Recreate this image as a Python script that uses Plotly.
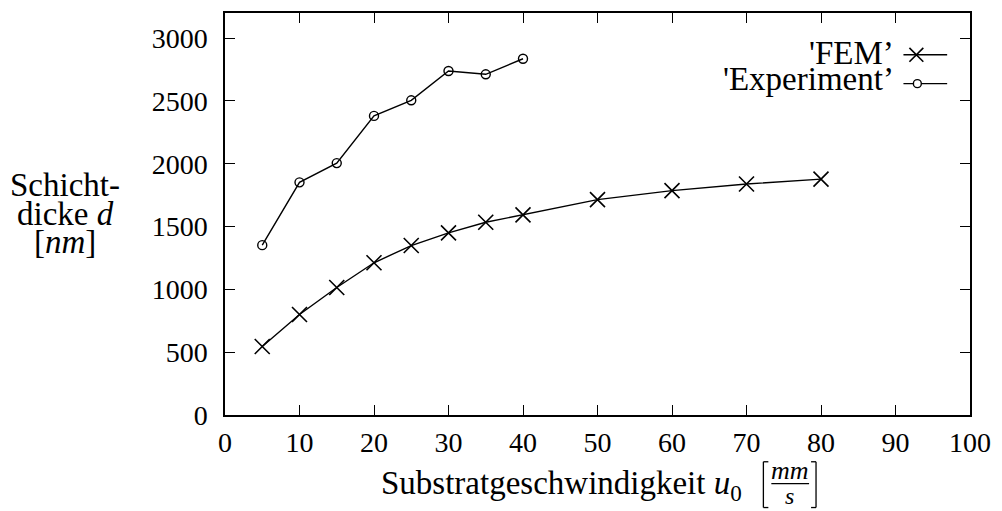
import plotly.graph_objects as go

fem_x = [5, 10, 15, 20, 25, 30, 35, 40, 50, 60, 70, 80]
fem_y = [545, 800, 1015, 1212, 1349, 1450, 1534, 1593, 1714, 1786, 1839, 1878]
exp_x = [5, 10, 15, 20, 25, 30, 35, 40]
exp_y = [1352, 1852, 2005, 2381, 2505, 2738, 2712, 2836]
x_ticks = [0, 10, 20, 30, 40, 50, 60, 70, 80, 90, 100]
y_ticks = [0, 500, 1000, 1500, 2000, 2500, 3000]

W, H = 1002, 511
L, R, T, B = 225, 27, 11, 96
PW, PH = W - L - R, H - T - B
FONT = "Liberation Serif"
FS = 28
TS = 33
LS = 33

def px(xp):
    return (xp - L) / PW

def py(yp):
    return (H - B - yp) / PH

fig = go.Figure()
fig.add_trace(go.Scatter(x=fem_x, y=fem_y, mode="lines+markers", name="'FEM'",
                         line=dict(color="black", width=1.4),
                         marker=dict(symbol="x-thin", size=15, line=dict(color="black", width=1.6)),
                         showlegend=False))
fig.add_trace(go.Scatter(x=exp_x, y=exp_y, mode="lines+markers", name="'Experiment'",
                         line=dict(color="black", width=1.4),
                         marker=dict(symbol="circle-open", size=9, color="black", line=dict(width=1.4)),
                         showlegend=False))

axis_common = dict(showline=True, linecolor="black", linewidth=1.5, mirror="ticks",
                   ticks="inside", ticklen=10, tickwidth=1.4, tickcolor="black",
                   showgrid=False, zeroline=False,
                   tickfont=dict(family=FONT, size=FS, color="black"))
fig.update_xaxes(range=[0, 100], tickvals=x_ticks, ticklabelstandoff=2, **axis_common)
fig.update_yaxes(range=[0, 3200], tickvals=y_ticks, ticklabelstandoff=10, **axis_common)

def text(xp, yp, s, size=TS, xanchor="center"):
    return dict(x=px(xp), y=py(yp), xref="paper", yref="paper", showarrow=False,
                xanchor=xanchor, yanchor="middle", text=s, align="center",
                font=dict(family=FONT, size=size, color="black"))

ann = []
ann.append(text(64, 184, "Schicht-"))
ann.append(text(64, 213, "dicke <i>d</i>"))
ann.append(text(64, 241, "[<i>nm</i>]"))
ann.append(text(747, 486, "Substratgeschwindigkeit <i>u</i><sub>0</sub>", xanchor="right"))
ann.append(text(794, 471, "<i>mm</i>", size=26))
ann.append(text(793, 496, "<i>s</i>", size=24))
ann.append(text(900, 51, "'FEM’", size=LS, xanchor="right"))
ann.append(text(900, 77, "'Experiment’", size=LS, xanchor="right"))

def line(x0, y0, x1, y1, w=1.4):
    return dict(type="line", xref="paper", yref="paper", x0=px(x0), x1=px(x1),
                y0=py(y0), y1=py(y1), line=dict(color="black", width=w))

shapes = []
# fraction bar and brackets
shapes.append(line(775, 484, 813, 484, 1.3))
shapes.append(line(767, 462, 767, 508, 1.3))
shapes.append(line(767, 462, 772, 462, 1.3))
shapes.append(line(767, 508, 772, 508, 1.3))
shapes.append(line(820, 462, 820, 508, 1.3))
shapes.append(line(815, 462, 820, 462, 1.3))
shapes.append(line(815, 508, 820, 508, 1.3))
# legend samples
shapes.append(line(908, 53, 952, 53))
shapes.append(line(908, 82, 952, 82))
shapes.append(line(914, 46, 928, 60, 1.6))
shapes.append(line(914, 60, 928, 46, 1.6))
shapes.append(dict(type="circle", xref="paper", yref="paper",
                   x0=px(918), x1=px(926), y0=py(78), y1=py(86),
                   fillcolor="white", line=dict(color="black", width=1.4)))

fig.update_layout(width=W, height=H, margin=dict(l=L, r=R, t=T, b=B),
                  paper_bgcolor="white", plot_bgcolor="white",
                  annotations=ann, shapes=shapes,
                  font=dict(family=FONT, color="black"))
fig.write_html("out.html")
